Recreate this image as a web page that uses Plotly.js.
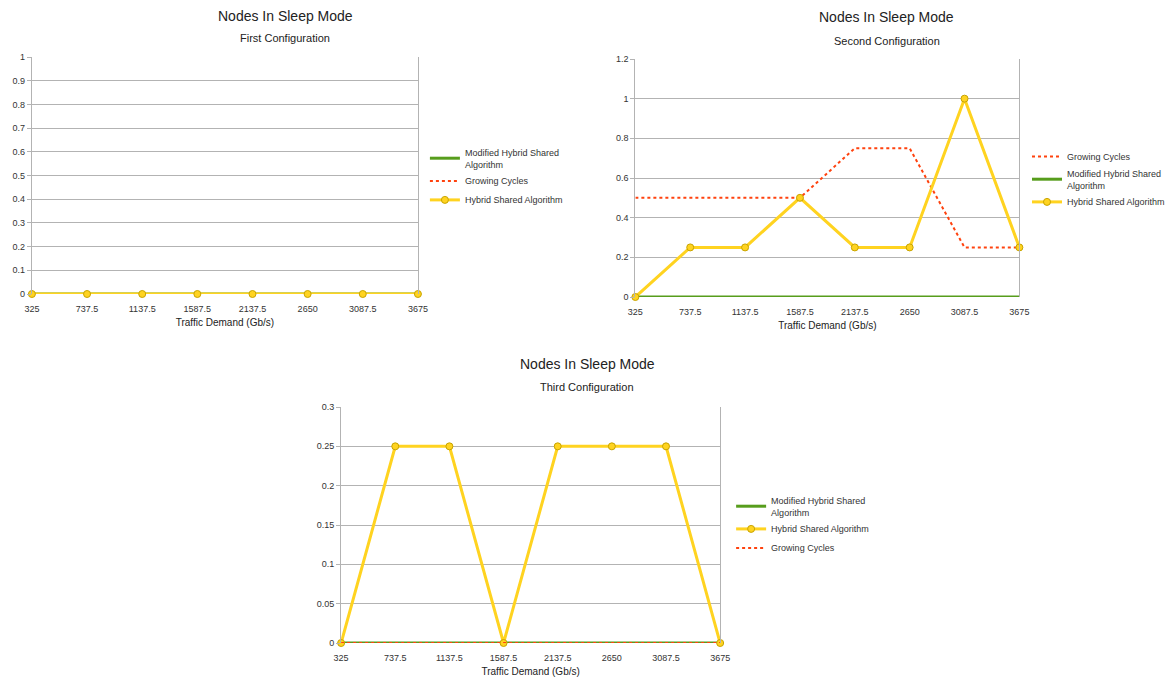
<!DOCTYPE html>
<html>
<head>
<meta charset="utf-8">
<script src="https://cdn.plot.ly/plotly-3.0.1.min.js"></script>
<style>html,body{margin:0;padding:0;background:#fff;}#chart{width:1170px;height:688px;}</style>
</head>
<body>
<div id="chart"></div>
<script>
var trafficDemand = ["325", "737.5", "1137.5", "1587.5", "2137.5", "2650", "3087.5", "3675"];

// First configuration
var first_modified = [0, 0, 0, 0, 0, 0, 0, 0];
var first_growing  = [0, 0, 0, 0, 0, 0, 0, 0];
var first_hybrid   = [0, 0, 0, 0, 0, 0, 0, 0];

// Second configuration
var second_growing  = [0.5, 0.5, 0.5, 0.5, 0.75, 0.75, 0.25, 0.25];
var second_modified = [0, 0, 0, 0, 0, 0, 0, 0];
var second_hybrid   = [0, 0.25, 0.25, 0.5, 0.25, 0.25, 1, 0.25];

// Third configuration
var third_modified = [0, 0, 0, 0, 0, 0, 0, 0];
var third_hybrid   = [0, 0.25, 0.25, 0, 0.25, 0.25, 0.25, 0];
var third_growing  = [0, 0, 0, 0, 0, 0, 0, 0];

var NAME_MOD = "Modified Hybrid Shared<br>Algorithm";
var NAME_GROW = "Growing Cycles";
var NAME_HYB = "Hybrid Shared Algorithm";

var GREEN = "#579d1c", RED = "#ff420e", YELLOW = "#ffd320";

function mod(y, xa, ya, lg) {
  return {x: trafficDemand, y: y, xaxis: xa, yaxis: ya, legend: lg, name: NAME_MOD,
    type: "scatter", mode: "lines", line: {color: GREEN, width: 3}, cliponaxis: false};
}
function grow(y, xa, ya, lg) {
  return {x: trafficDemand, y: y, xaxis: xa, yaxis: ya, legend: lg, name: NAME_GROW,
    type: "scatter", mode: "lines", line: {color: RED, width: 2, dash: "dot"}, cliponaxis: false};
}
function hyb(y, xa, ya, lg) {
  return {x: trafficDemand, y: y, xaxis: xa, yaxis: ya, legend: lg, name: NAME_HYB,
    type: "scatter", mode: "lines+markers", line: {color: YELLOW, width: 3},
    marker: {color: YELLOW, size: 7, line: {color: "#c8a400", width: 1}}, cliponaxis: false};
}

var data = [
  mod(first_modified, "x", "y", "legend"),
  grow(first_growing, "x", "y", "legend"),
  hyb(first_hybrid, "x", "y", "legend"),
  grow(second_growing, "x2", "y2", "legend2"),
  mod(second_modified, "x2", "y2", "legend2"),
  hyb(second_hybrid, "x2", "y2", "legend2"),
  mod(third_modified, "x3", "y3", "legend3"),
  hyb(third_hybrid, "x3", "y3", "legend3"),
  grow(third_growing, "x3", "y3", "legend3")
];

var tickFont = {family: "Liberation Sans, Arial, sans-serif", size: 9, color: "#333"};
var titleFont = {family: "Liberation Sans, Arial, sans-serif", size: 10, color: "#222"};

function xax(dom, anchor) {
  return {domain: dom, anchor: anchor, type: "category", range: [0, 7],
    showgrid: false, zeroline: false, showline: false,
    ticks: "outside", ticklen: 6, tickcolor: "rgba(0,0,0,0)", tickfont: tickFont,
    title: {text: "Traffic Demand (Gb/s)", font: titleFont, standoff: 6}, fixedrange: true};
}
function yax(dom, anchor, range, dtick) {
  return {domain: dom, anchor: anchor, range: range, dtick: dtick,
    showgrid: true, gridcolor: "#b3b3b3", gridwidth: 1, zeroline: false,
    showline: true, linecolor: "#b3b3b3", linewidth: 1, mirror: true,
    ticks: "outside", ticklen: 4, tickcolor: "#b3b3b3", tickfont: tickFont, fixedrange: true};
}

var legFont = {family: "Liberation Sans, Arial, sans-serif", size: 9, color: "#333"};
function leg(x, y) {
  return {x: x, y: y, xref: "paper", yref: "paper", xanchor: "left", yanchor: "top",
    font: legFont, bgcolor: "rgba(0,0,0,0)", tracegroupgap: 0, itemwidth: 30, itemsizing: "trace"};
}

var D1x = [32/1170, 419/1170], D1y = [394/688, 631/688];
var D2x = [637/1170, 1022/1170], D2y = [391/688, 629/688];
var D3x = [342/1170, 722/1170], D3y = [45/688, 281/688];

function ann(text, xc, ytop, size) {
  return {text: text, x: xc, y: ytop, xref: "paper", yref: "paper", xanchor: "center", yanchor: "middle",
    showarrow: false, font: {family: "Liberation Sans, Arial, sans-serif", size: size, color: "#222"}};
}

var layout = {
  width: 1170, height: 688,
  margin: {l: 0, r: 0, t: 0, b: 0},
  paper_bgcolor: "#ffffff", plot_bgcolor: "#ffffff",
  showlegend: true,
  xaxis: xax(D1x, "y"), yaxis: yax(D1y, "x", [0, 1], 0.1),
  xaxis2: xax(D2x, "y2"), yaxis2: yax(D2y, "x2", [0, 1.2], 0.2),
  xaxis3: xax(D3x, "y3"), yaxis3: yax(D3y, "x3", [0, 0.3], 0.05),
  legend: leg(426/1170, 1 - 140/688),
  legend2: leg(1030/1170, 1 - 142/688),
  legend3: leg(733/1170, 1 - 488/688),
  annotations: [
    ann("Nodes In Sleep Mode", 286/1170, 1 - 16/688, 14),
    ann("First Configuration", 286/1170, 1 - 38/688, 11),
    ann("Nodes In Sleep Mode", 889/1170, 1 - 17/688, 14),
    ann("Second Configuration", 889/1170, 1 - 41/688, 11),
    ann("Nodes In Sleep Mode", 589/1170, 1 - 364/688, 14),
    ann("Third Configuration", 589/1170, 1 - 387/688, 11)
  ]
};

Plotly.newPlot("chart", data, layout, {displayModeBar: false, staticPlot: true});
</script>
</body>
</html>
